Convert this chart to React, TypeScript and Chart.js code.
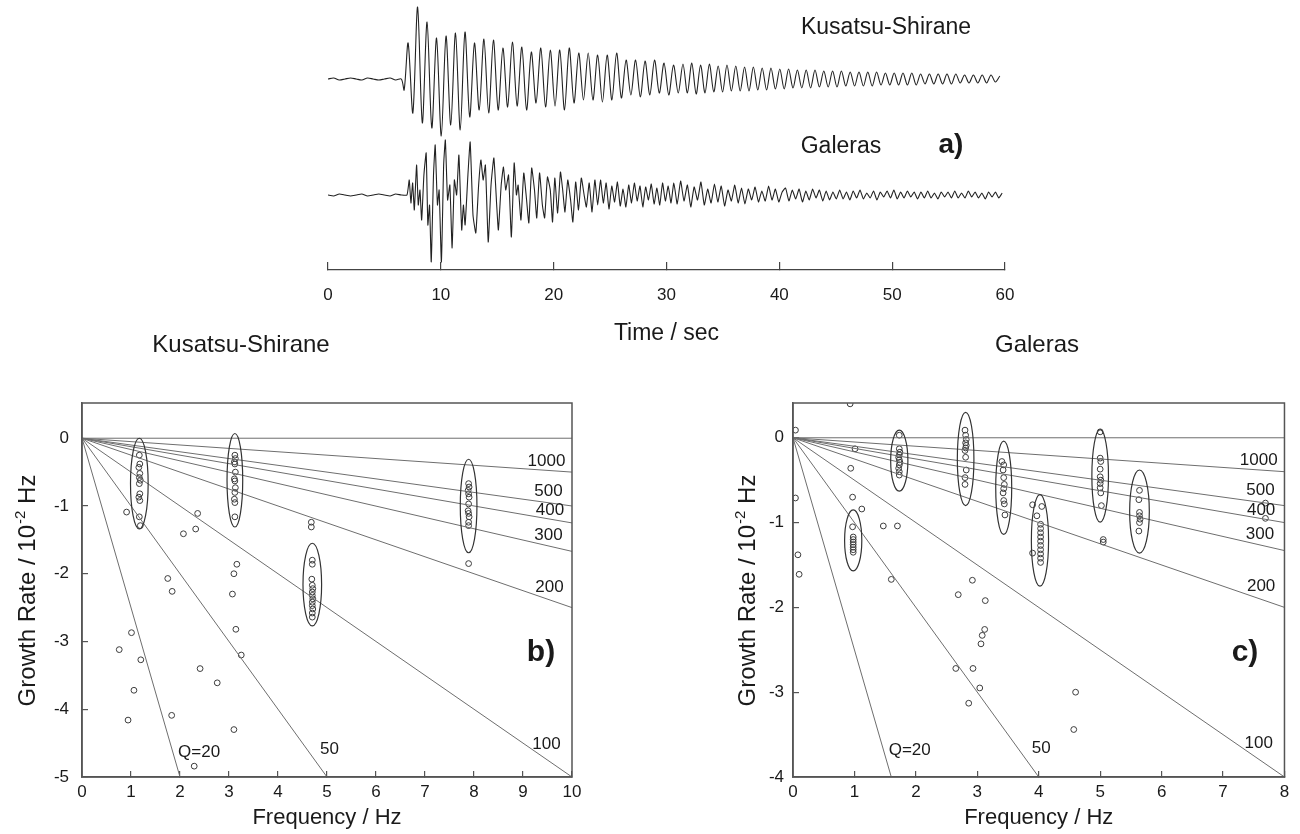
import React, { useEffect, useRef } from "react";
import { Chart, registerables } from "chart.js";
Chart.register(...registerables);

// ================= DATA =================
// Panel a: time axis
const timeTicks = [0, 10, 20, 30, 40, 50, 60];

// Kusatsu-Shirane seismogram (amplitudes, arbitrary units)
const ksNoise = [0, 1, -1, 0, 1, 0, -1, 1, 0, -1, 0, 1, -1, 0]; // pre-onset, every 0.5 s
const ksOnset = -11; // small first downswing
const ksPeaks = [
  36, 72, 57, 41, 43, 46, 47, 36, 40, 39, 31, 37, 32, 27, 31, 29, 29, 31, 26, 26, 24, 24, 26, 19, 19, 18, 19, 16, 14,
  15, 16, 14, 15, 13, 14, 13, 12, 12, 11, 11, 10, 10, 9, 9, 9, 8, 8, 8, 7, 7, 7, 7, 6, 6, 6, 6, 5, 5, 5, 5, 5, 4, 4, 4, 4, 3,
];
const ksTroughs = [
  34, 44, 49, 57, 46, 51, 38, 31, 34, 31, 28, 27, 31, 24, 28, 27, 31, 24, 21, 21, 23, 21, 19, 16, 18, 16, 14, 16, 14,
  14, 15, 14, 13, 13, 12, 12, 12, 11, 11, 10, 10, 9, 9, 9, 8, 8, 8, 7, 7, 7, 7, 6, 6, 6, 6, 6, 5, 5, 5, 5, 4, 4, 4, 4, 3, 3,
];
const ksPeriods = [0.84, 0.78]; // seconds, early / late part
const ksFirstPeak = 7.1;
const ksEarlyCycles = 29;

// Galeras seismogram
const galNoise = [0, -1, 1, 0, -1, 0, 1, -1, 0, 1, 0, -1, 1, 0]; // pre-onset, every 0.5 s
const galEarlyT = [
  7.0, 7.2, 7.35, 7.5, 7.65, 7.85, 8.0, 8.15, 8.3, 8.5, 8.7, 8.85, 9.0, 9.15, 9.35, 9.5, 9.7, 9.85, 10.05, 10.25,
  10.4, 10.6, 10.8, 11.0, 11.2, 11.4, 11.6, 11.85, 12.0, 12.15, 12.4, 12.6, 12.85, 13.1, 13.35, 13.55, 13.75, 13.95, 14.2, 14.45,
  14.7, 14.95, 15.1, 15.35, 15.55, 15.75, 16.0, 16.25, 16.5, 16.7, 16.85, 17.1, 17.35, 17.6, 17.8, 18.05, 18.3, 18.5, 18.75, 19.0,
  19.2, 19.45, 19.7, 19.9, 20.1, 20.35, 20.6, 20.8, 21.0, 21.25, 21.5, 21.7, 21.95, 22.2, 22.45, 22.7, 22.9, 23.15, 23.4, 23.65,
  23.9, 24.15, 24.4, 24.65, 24.9, 25.15, 25.4, 25.65, 25.9, 26.15, 26.4, 26.65, 26.9, 27.15, 27.4, 27.65, 27.9, 28.15, 28.4, 28.65,
  28.9, 29.15, 29.4, 29.65, 29.9, 30.15, 30.4,
];
const galEarlyA = [
  0, 15, -8, 12, -15, 30, -10, 5, -25, 20, 42, -30, -10, -67, 20, 50, -10, 5, -67, 30,
  55, -5, 10, -53, 15, 0, 40, -35, -10, -30, 20, 53, -20, -38, 10, 35, 15, 30, -47, 10,
  37, -10, -35, 10, 28, 5, 20, -42, 32, 0, 10, -25, 22, -5, -28, 27, 5, -23, 22, -10,
  -23, 18, 5, -27, 17, -18, 23, 5, -17, 15, -5, -27, 13, -15, 17, 0, -12, 12, -17, 15,
  -10, 15, -8, 12, -14, 9, -7, 13, -11, 6, -12, 10, -8, 12, -6, 9, -12, 8, -5, 11,
  -9, 7, -10, 12, -6, 9, -8,
];
const galLateStart = 30.65;
const galLateStep = 0.3;
const galLate = [
  12, -9, 14, -6, 10, -12, 8, -5, 13, -10, 6, -8, 11, -7, 9, -11, 5, -6, 10, -8, 7, -9, 6,
  -5, 8, -7, 4, -6, 9, -5, 6, -7, 3, 7, -6, 5, -4, 6, -7, 4, -5, 6, -3, 5, -6, 4, -5, 3, -4,
  5, -4, 3, -5, 4, -3, 5, -4, 2, -3, 4, -5, 3, -2, 4, -3, 5, -4, 3, -3, 4, -2, 3, -4, 3, -3, 4, -3, 2, -4, 3, -2, 3, -3,
  4, -3, 2, -3, 4, -2, 3, -3, 2, -4, 3, -2, 3, -3, 2,
];

// Q lines (growth rate in 10^-2 Hz), end points
const qNames = ["Q=20", "50", "100", "200", "300", "400", "500", "1000", ""];
const ksQEndF = [2, 5, 10, 10, 10, 10, 10, 10, 10];
const ksQEndG = [-5, -5, -5, -2.5, -1.67, -1.25, -1.0, -0.5, 0];
const galQEndF = [1.6, 4, 8, 8, 8, 8, 8, 8, 8];
const galQEndG = [-4, -4, -4, -2, -1.33, -1.0, -0.8, -0.4, 0];

// Kusatsu-Shirane measurements
const ksFreq = [
  1.17, 1.18, 1.16, 1.18, 1.17, 1.19, 1.17, 1.18, 1.16, 1.18, 1.17, 1.19,
  0.91, 2.07, 2.32, 2.36, 1.75, 1.84,
  3.12, 3.13, 3.11, 3.12, 3.13, 3.11, 3.12, 3.13, 3.12, 3.11, 3.12, 3.12,
  3.16, 3.10, 3.07,
  1.01, 0.76, 1.20, 1.06, 0.94, 1.83, 2.29, 2.41, 2.76, 3.14, 3.25, 3.10,
  4.68, 4.68, 4.70, 4.70, 4.69, 4.70, 4.71, 4.70, 4.70, 4.71, 4.70, 4.70, 4.71, 4.70, 4.70,
  7.89, 7.90, 7.88, 7.89, 7.90, 7.89, 7.88, 7.89, 7.90, 7.89, 7.89, 7.89,
];
const ksRate = [
  -0.25, -0.38, -0.43, -0.52, -0.58, -0.62, -0.67, -0.82, -0.87, -0.92, -1.16, -1.29,
  -1.09, -1.41, -1.34, -1.11, -2.07, -2.26,
  -0.25, -0.30, -0.35, -0.38, -0.50, -0.60, -0.63, -0.73, -0.80, -0.90, -0.95, -1.16,
  -1.86, -2.0, -2.30,
  -2.87, -3.12, -3.27, -3.72, -4.16, -4.09, -4.84, -3.40, -3.61, -2.82, -3.20, -4.30,
  -1.24, -1.31, -1.80, -1.86, -2.08, -2.17, -2.22, -2.27, -2.32, -2.37, -2.42, -2.47, -2.52, -2.58, -2.64,
  -0.67, -0.72, -0.77, -0.82, -0.87, -0.97, -1.07, -1.11, -1.16, -1.24, -1.29, -1.85,
];
const ksEllF = [1.17, 3.12, 4.70, 7.89];
const ksEllG = [-0.67, -0.62, -2.16, -1.0];
const ksEllHalfF = [0.18, 0.16, 0.19, 0.17];
const ksEllHalfG = [0.67, 0.69, 0.61, 0.69];

// Galeras measurements
const galFreq = [
  0.04, 0.93, 1.01, 0.94, 0.97, 1.12, 0.04, 0.08, 0.10, 1.47, 1.70, 1.60, 2.69, 2.92, 3.13,
  0.97, 0.98, 0.98, 0.98, 0.98, 0.98, 0.98, 0.98,
  1.73, 1.73, 1.74, 1.73, 1.72, 1.73, 1.74, 1.73, 1.72, 1.73, 1.73,
  2.80, 2.81, 2.82, 2.81, 2.82, 2.81, 2.80, 2.81, 2.82, 2.80, 2.80,
  3.40, 3.43, 3.42, 3.43, 3.44, 3.43, 3.42, 3.43, 3.44, 3.45,
  3.90, 4.05, 3.97, 3.90, 4.03, 4.03, 4.03, 4.03, 4.03, 4.03, 4.03, 4.03, 4.03, 4.03,
  5.00, 5.00, 5.01, 5.00, 5.00, 5.01, 5.00, 5.00, 5.01, 5.02, 5.05, 5.05,
  5.64, 5.63, 5.64, 5.64, 5.65, 5.64, 5.63,
  7.69, 7.69,
  3.12, 3.08, 3.06, 2.65, 2.93, 3.04, 2.86, 4.60, 4.57,
];
const galRate = [
  0.09, 0.40, -0.13, -0.36, -0.70, -0.84, -0.71, -1.38, -1.61, -1.04, -1.04, -1.67, -1.85, -1.68, -1.92,
  -1.05, -1.17, -1.20, -1.23, -1.26, -1.29, -1.32, -1.35,
  0.03, -0.13, -0.17, -0.20, -0.23, -0.26, -0.29, -0.32, -0.36, -0.40, -0.44,
  0.09, 0.03, -0.02, -0.06, -0.09, -0.12, -0.15, -0.23, -0.38, -0.47, -0.55,
  -0.28, -0.32, -0.38, -0.47, -0.55, -0.60, -0.65, -0.74, -0.78, -0.91,
  -0.79, -0.81, -0.92, -1.36, -1.02, -1.07, -1.12, -1.17, -1.22, -1.27, -1.32, -1.37, -1.42, -1.47,
  0.07, -0.24, -0.28, -0.37, -0.46, -0.50, -0.54, -0.59, -0.65, -0.80, -1.23, -1.20,
  -0.62, -0.73, -0.88, -0.92, -0.96, -1.0, -1.10,
  -0.77, -0.95,
  -2.26, -2.33, -2.43, -2.72, -2.72, -2.95, -3.13, -3.0, -3.44,
];
const galEllF = [0.98, 1.73, 2.81, 3.43, 4.02, 5.0, 5.64];
const galEllG = [-1.21, -0.27, -0.25, -0.59, -1.21, -0.45, -0.87];
const galEllHalfF = [0.14, 0.14, 0.135, 0.13, 0.14, 0.135, 0.16];
const galEllHalfG = [0.36, 0.36, 0.55, 0.55, 0.54, 0.545, 0.49];

const ksXTicks = [0, 1, 2, 3, 4, 5, 6, 7, 8, 9, 10];
const ksYTicks = [-5, -4, -3, -2, -1, 0];
const galXTicks = [0, 1, 2, 3, 4, 5, 6, 7, 8];
const galYTicks = [-4, -3, -2, -1, 0];

// ================= LAYOUT (positions / styles) =================
const FONT = '"Liberation Sans", Arial, Helvetica, sans-serif';
const TEXT = "#1a1a1a";
const WAVE_OFFSETS = { ks: 0, gal: -116 };
const KS_LABEL_AT = [[2.39, -4.63], [5.05, -4.59], [9.48, -4.52], [9.54, -2.2], [9.52, -1.43], [9.55, -1.07], [9.52, -0.78], [9.48, -0.34]];
const GAL_LABEL_AT = [[1.9, -3.69], [4.04, -3.66], [7.58, -3.6], [7.62, -1.75], [7.6, -1.14], [7.62, -0.85], [7.61, -0.62], [7.58, -0.27]];

function buildKusatsu(off: number) {
  const pts: { x: number; y: number }[] = [];
  ksNoise.forEach((v, i) => pts.push({ x: i * 0.5, y: v + off }));
  pts.push({ x: 6.75, y: ksOnset + off });
  let t = ksFirstPeak;
  for (let i = 0; i < ksPeaks.length; i++) {
    const p = i < ksEarlyCycles ? ksPeriods[0] : ksPeriods[1];
    pts.push({ x: t, y: ksPeaks[i] + off });
    if (i < ksTroughs.length && t + p / 2 <= 60) pts.push({ x: t + p / 2, y: -ksTroughs[i] + off });
    t += p;
  }
  return pts.filter((q) => q.x <= 59.8);
}

function buildGaleras(off: number) {
  const pts: { x: number; y: number }[] = [];
  galNoise.forEach((v, i) => pts.push({ x: i * 0.5, y: v + off }));
  galEarlyT.forEach((t, i) => pts.push({ x: t, y: galEarlyA[i] + off }));
  galLate.forEach((v, i) => pts.push({ x: galLateStart + i * galLateStep, y: v + off }));
  return pts.filter((q) => q.x <= 59.8);
}

function makeWave(canvas: HTMLCanvasElement) {
  const textPlugin = {
    id: "waveText",
    afterDraw(chart: any) {
      const ctx = chart.ctx;
      ctx.save();
      ctx.fillStyle = TEXT;
      ctx.textAlign = "center";
      ctx.textBaseline = "middle";
      ctx.font = `23px ${FONT}`;
      ctx.fillText("Kusatsu-Shirane", 886, 28);
      ctx.fillText("Galeras", 841, 147);
      ctx.font = `bold 28px ${FONT}`;
      ctx.fillText("a)", 951, 145);
      ctx.restore();
    },
  };
  return new Chart(canvas, {
    type: "scatter",
    data: {
      datasets: [
        { data: buildKusatsu(WAVE_OFFSETS.ks), showLine: true, borderColor: "#222", borderWidth: 1.1, pointRadius: 0, tension: 0.3 },
        { data: buildGaleras(WAVE_OFFSETS.gal), showLine: true, borderColor: "#222", borderWidth: 1.1, pointRadius: 0, tension: 0.15 },
      ],
    },
    options: {
      animation: false,
      responsive: false,
      devicePixelRatio: 1,
      layout: { padding: { left: 328, right: 295, top: 2, bottom: 0 } },
      plugins: { legend: { display: false }, tooltip: { enabled: false } },
      scales: {
        x: {
          type: "linear",
          min: 0,
          max: 60,
          afterBuildTicks: (s: any) => { s.ticks = timeTicks.map((v) => ({ value: v })); },
          afterFit: (s: any) => { s.height = 80; },
          grid: { drawOnChartArea: false, drawTicks: true, tickLength: -8, color: "#444", lineWidth: 1.2 },
          border: { display: true, color: "#444", width: 1.2 },
          ticks: { padding: 22.8, font: { size: 17, family: FONT }, color: TEXT, maxRotation: 0 },
          title: { display: true, text: "Time / sec", font: { size: 23, family: FONT }, color: TEXT, padding: { top: 0, bottom: 3 } },
        },
        y: { type: "linear", display: false, min: -191, max: 77 },
      },
    },
    plugins: [textPlugin],
  } as any);
}

function makeGrowth(canvas: HTMLCanvasElement, cfg: any) {
  const datasets: any[] = [];
  cfg.qEndF.forEach((f: number, i: number) => {
    datasets.push({ data: [{ x: 0, y: 0 }, { x: f, y: cfg.qEndG[i] }], showLine: true, borderColor: "#6e6e6e", borderWidth: 1, pointRadius: 0 });
  });
  datasets.push({
    data: cfg.freq.map((f: number, i: number) => ({ x: f, y: cfg.rate[i] })),
    showLine: false,
    pointRadius: 2.9,
    pointStyle: "circle",
    backgroundColor: "rgba(255,255,255,0)",
    borderColor: "#3c3c3c",
    borderWidth: 1,
  });
  const decor = {
    id: "growthDecor",
    afterDatasetsDraw(chart: any) {
      const { ctx, chartArea: a, scales } = chart;
      const xs = scales.x, ys = scales.y;
      ctx.save();
      // frame
      ctx.strokeStyle = "#555";
      ctx.lineWidth = 1.5;
      ctx.strokeRect(a.left, a.top, a.right - a.left, a.bottom - a.top);
      // ellipses
      ctx.strokeStyle = "#333";
      ctx.lineWidth = 1.2;
      cfg.ellF.forEach((f: number, i: number) => {
        const cx = xs.getPixelForValue(f);
        const cy = ys.getPixelForValue(cfg.ellG[i]);
        const rx = Math.abs(xs.getPixelForValue(f + cfg.ellHF[i]) - cx);
        const ry = Math.abs(ys.getPixelForValue(cfg.ellG[i] + cfg.ellHG[i]) - cy);
        ctx.beginPath();
        ctx.ellipse(cx, cy, rx, ry, 0, 0, Math.PI * 2);
        ctx.stroke();
      });
      // Q labels
      ctx.fillStyle = TEXT;
      ctx.font = `17px ${FONT}`;
      ctx.textAlign = "center";
      ctx.textBaseline = "middle";
      cfg.labelAt.forEach((p: number[], i: number) => {
        ctx.fillText(qNames[i], xs.getPixelForValue(p[0]), ys.getPixelForValue(p[1]));
      });
      // panel title
      ctx.font = `24px ${FONT}`;
      ctx.fillText(cfg.title, cfg.titleX, 15);
      // panel letter
      ctx.font = `bold 30px ${FONT}`;
      ctx.fillText(cfg.letter, cfg.letterX, 323);
      // y title with superscript
      ctx.translate(cfg.yTitleX, (a.top + a.bottom) / 2 + 1);
      ctx.rotate(-Math.PI / 2);
      ctx.textAlign = "left";
      ctx.textBaseline = "alphabetic";
      const main = "Growth Rate / 10", sup = "-2", tail = " Hz";
      ctx.font = `24px ${FONT}`;
      const w1 = ctx.measureText(main).width;
      const w3 = ctx.measureText(tail).width;
      ctx.font = `15px ${FONT}`;
      const w2 = ctx.measureText(sup).width;
      const sx = -(w1 + w2 + w3) / 2;
      const base = 8.6;
      ctx.font = `24px ${FONT}`;
      ctx.fillText(main, sx, base);
      ctx.font = `15px ${FONT}`;
      ctx.fillText(sup, sx + w1 + 1, base - 10);
      ctx.font = `24px ${FONT}`;
      ctx.fillText(tail, sx + w1 + w2 + 1, base);
      ctx.restore();
    },
  };
  return new Chart(canvas, {
    type: "scatter",
    data: { datasets },
    options: {
      animation: false,
      responsive: false,
      devicePixelRatio: 1,
      layout: { padding: { left: 0, right: cfg.padRight, top: 73, bottom: 0 } },
      plugins: { legend: { display: false }, tooltip: { enabled: false } },
      scales: {
        x: {
          type: "linear",
          min: 0,
          max: cfg.xMax,
          afterBuildTicks: (s: any) => { s.ticks = cfg.xTicks.map((v: number) => ({ value: v })); },
          afterFit: (s: any) => { s.height = 57; },
          grid: { drawOnChartArea: false, drawTicks: true, tickLength: -6, color: "#555", lineWidth: 1.2 },
          border: { display: true, color: "#555", width: 1.5 },
          ticks: { padding: 10.8, font: { size: 17, family: FONT }, color: TEXT, maxRotation: 0 },
          title: { display: true, text: "Frequency / Hz", font: { size: 22, family: FONT }, color: TEXT, padding: { top: 0, bottom: 2.8 } },
        },
        y: {
          type: "linear",
          min: cfg.yMin,
          max: cfg.yMax,
          afterBuildTicks: (s: any) => { s.ticks = cfg.yTicks.map((v: number) => ({ value: v })); },
          afterFit: (s: any) => { s.width = cfg.yWidth; },
          grid: { drawOnChartArea: false, drawTicks: true, tickLength: -6, color: "#555", lineWidth: 1.2 },
          border: { display: true, color: "#555", width: 1.5 },
          ticks: { padding: cfg.yPad, font: { size: 17, family: FONT }, color: TEXT },
        },
      },
    },
    plugins: [decor],
  } as any);
}

export default function App() {
  const aRef = useRef<HTMLCanvasElement>(null);
  const bRef = useRef<HTMLCanvasElement>(null);
  const cRef = useRef<HTMLCanvasElement>(null);
  useEffect(() => {
    const charts = [
      makeWave(aRef.current as HTMLCanvasElement),
      makeGrowth(bRef.current as HTMLCanvasElement, {
        qEndF: ksQEndF, qEndG: ksQEndG, freq: ksFreq, rate: ksRate,
        ellF: ksEllF, ellG: ksEllG, ellHF: ksEllHalfF, ellHG: ksEllHalfG,
        labelAt: KS_LABEL_AT, title: "Kusatsu-Shirane", titleX: 241, letter: "b)", letterX: 541,
        xMax: 10, yMin: -5, yMax: 0.52, xTicks: ksXTicks, yTicks: ksYTicks,
        padRight: 78, yWidth: 82, yPad: 19, yTitleX: 26,
      }),
      makeGrowth(cRef.current as HTMLCanvasElement, {
        qEndF: galQEndF, qEndG: galQEndG, freq: galFreq, rate: galRate,
        ellF: galEllF, ellG: galEllG, ellHF: galEllHalfF, ellHG: galEllHalfG,
        labelAt: GAL_LABEL_AT, title: "Galeras", titleX: 387, letter: "c)", letterX: 595,
        xMax: 8, yMin: -4, yMax: 0.41, xTicks: galXTicks, yTicks: galYTicks,
        padRight: 15, yWidth: 143, yPad: 15, yTitleX: 96,
      }),
    ];
    return () => charts.forEach((c) => c.destroy());
  }, []);
  return (
    <div style={{ position: "absolute", left: 0, top: 0, width: 1300, height: 834, background: "#fff", overflow: "hidden" }}>
      <canvas ref={aRef} width={1300} height={350} style={{ position: "absolute", left: 0, top: 0 }} />
      <canvas ref={bRef} width={650} height={504} style={{ position: "absolute", left: 0, top: 330 }} />
      <canvas ref={cRef} width={650} height={504} style={{ position: "absolute", left: 650, top: 330 }} />
    </div>
  );
}
